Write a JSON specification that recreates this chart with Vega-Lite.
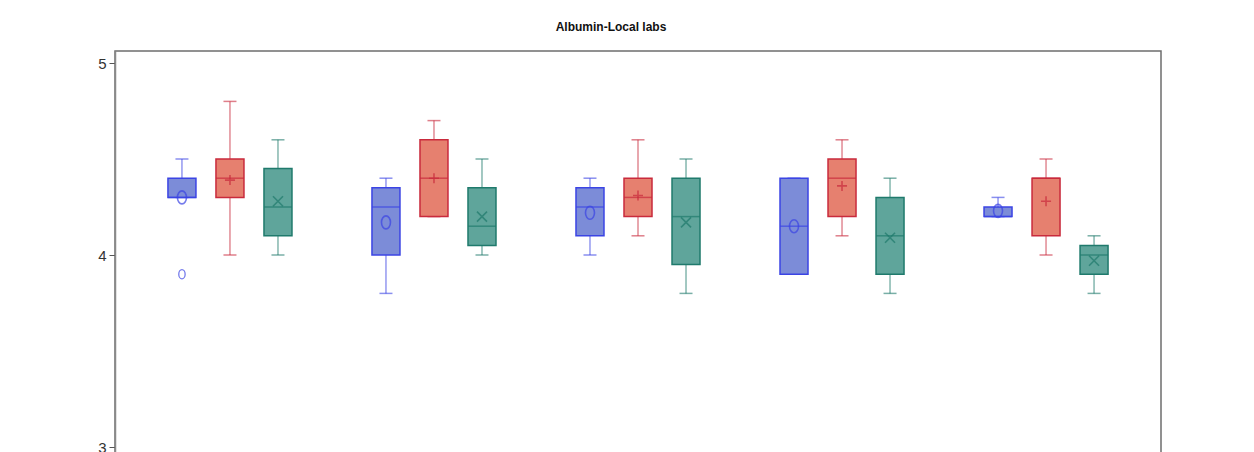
{
  "$schema": "https://vega.github.io/schema/vega-lite/v6.json",
  "autosize": "none",
  "padding": {"left": 115, "top": 51, "right": 93, "bottom": 0},
  "width": 1046,
  "height": 492,
  "background": "white",
  "title": {
    "text": "Albumin-Local labs",
    "font": "Liberation Sans",
    "fontSize": 12,
    "fontWeight": "bold",
    "color": "#111",
    "anchor": "middle",
    "dx": -27,
    "offset": 17
  },
  "config": {
    "view": {"stroke": "#6e6e6e", "strokeWidth": 1.5},
    "axis": {"labelFont": "Liberation Sans", "titleFont": "Liberation Sans"}
  },
  "datasets": {
    "boxes": [
      {"visit": "Visit 1", "trt": "Arm 1", "lower": 4.3, "q1": 4.3, "median": 4.3, "q3": 4.4, "upper": 4.5, "mean": 4.3},
      {"visit": "Visit 1", "trt": "Arm 2", "lower": 4.0, "q1": 4.3, "median": 4.4, "q3": 4.5, "upper": 4.8, "mean": 4.39},
      {"visit": "Visit 1", "trt": "Arm 3", "lower": 4.0, "q1": 4.1, "median": 4.25, "q3": 4.45, "upper": 4.6, "mean": 4.28},
      {"visit": "Visit 2", "trt": "Arm 1", "lower": 3.8, "q1": 4.0, "median": 4.25, "q3": 4.35, "upper": 4.4, "mean": 4.17},
      {"visit": "Visit 2", "trt": "Arm 2", "lower": 4.2, "q1": 4.2, "median": 4.4, "q3": 4.6, "upper": 4.7, "mean": 4.4},
      {"visit": "Visit 2", "trt": "Arm 3", "lower": 4.0, "q1": 4.05, "median": 4.15, "q3": 4.35, "upper": 4.5, "mean": 4.2},
      {"visit": "Visit 3", "trt": "Arm 1", "lower": 4.0, "q1": 4.1, "median": 4.25, "q3": 4.35, "upper": 4.4, "mean": 4.22},
      {"visit": "Visit 3", "trt": "Arm 2", "lower": 4.1, "q1": 4.2, "median": 4.3, "q3": 4.4, "upper": 4.6, "mean": 4.31},
      {"visit": "Visit 3", "trt": "Arm 3", "lower": 3.8, "q1": 3.95, "median": 4.2, "q3": 4.4, "upper": 4.5, "mean": 4.17},
      {"visit": "Visit 4", "trt": "Arm 1", "lower": 3.9, "q1": 3.9, "median": 4.15, "q3": 4.4, "upper": 4.4, "mean": 4.15},
      {"visit": "Visit 4", "trt": "Arm 2", "lower": 4.1, "q1": 4.2, "median": 4.4, "q3": 4.5, "upper": 4.6, "mean": 4.36},
      {"visit": "Visit 4", "trt": "Arm 3", "lower": 3.8, "q1": 3.9, "median": 4.1, "q3": 4.3, "upper": 4.4, "mean": 4.09},
      {"visit": "Visit 5", "trt": "Arm 1", "lower": 4.2, "q1": 4.2, "median": 4.2, "q3": 4.25, "upper": 4.3, "mean": 4.23},
      {"visit": "Visit 5", "trt": "Arm 2", "lower": 4.0, "q1": 4.1, "median": 4.4, "q3": 4.4, "upper": 4.5, "mean": 4.28},
      {"visit": "Visit 5", "trt": "Arm 3", "lower": 3.8, "q1": 3.9, "median": 4.0, "q3": 4.05, "upper": 4.1, "mean": 3.97}
    ],
    "outliers": [
      {"visit": "Visit 1", "trt": "Arm 1", "value": 3.9}
    ]
  },
  "encoding": {
    "x": {
      "field": "visit",
      "type": "nominal",
      "axis": null,
      "scale": {"paddingInner": 0.294, "paddingOuter": 0.2105}
    },
    "xOffset": {
      "field": "trt",
      "type": "nominal",
      "scale": {"paddingInner": 0, "paddingOuter": 0}
    }
  },
  "layer": [
    {
      "data": {"name": "boxes"},
      "mark": {"type": "rule", "strokeWidth": 1.5, "strokeOpacity": 0.55},
      "encoding": {
        "y": {
          "field": "lower",
          "type": "quantitative",
          "scale": {"domain": [2.5, 5.0625], "nice": false, "zero": false},
          "axis": {
            "title": null,
            "values": [3, 4, 5],
            "format": "d",
            "grid": false,
            "labelFontSize": 15,
            "labelColor": "#333",
            "tickSize": 6,
            "tickColor": "#555",
            "labelPadding": 3,
            "domainColor": "#8a8a8a",
            "domainWidth": 1.5
          }
        },
        "y2": {"field": "upper"},
        "stroke": {
          "field": "trt",
          "type": "nominal",
          "legend": null,
          "scale": {"domain": ["Arm 1", "Arm 2", "Arm 3"], "range": ["#3b44e4", "#c92a3c", "#1f7a6c"]}
        }
      }
    },
    {
      "data": {"name": "boxes"},
      "mark": {"type": "tick", "size": 13, "thickness": 1.5, "opacity": 0.6},
      "encoding": {
        "y": {"field": "upper", "type": "quantitative"},
        "color": {
          "field": "trt",
          "type": "nominal",
          "legend": null,
          "scale": {"domain": ["Arm 1", "Arm 2", "Arm 3"], "range": ["#3b44e4", "#c92a3c", "#1f7a6c"]}
        }
      }
    },
    {
      "data": {"name": "boxes"},
      "mark": {"type": "tick", "size": 13, "thickness": 1.5, "opacity": 0.6},
      "encoding": {
        "y": {"field": "lower", "type": "quantitative"},
        "color": {"field": "trt", "type": "nominal", "legend": null}
      }
    },
    {
      "data": {"name": "boxes"},
      "mark": {"type": "bar", "size": 28, "strokeWidth": 1.5},
      "encoding": {
        "y": {"field": "q1", "type": "quantitative"},
        "y2": {"field": "q3"},
        "fill": {
          "field": "trt",
          "type": "nominal",
          "legend": null,
          "scale": {"domain": ["Arm 1", "Arm 2", "Arm 3"], "range": ["#7c8cd8", "#e6806f", "#5fa59b"]}
        },
        "stroke": {"field": "trt", "type": "nominal", "legend": null}
      }
    },
    {
      "data": {"name": "boxes"},
      "mark": {"type": "tick", "size": 28, "thickness": 1.5},
      "encoding": {
        "y": {"field": "median", "type": "quantitative"},
        "color": {"field": "trt", "type": "nominal", "legend": null}
      }
    },
    {
      "data": {"name": "boxes"},
      "mark": {"type": "point", "filled": false, "size": 100, "strokeWidth": 1.6},
      "encoding": {
        "y": {"field": "mean", "type": "quantitative"},
        "stroke": {"field": "trt", "type": "nominal", "legend": null},
        "shape": {
          "field": "trt",
          "type": "nominal",
          "legend": null,
          "scale": {
            "domain": ["Arm 1", "Arm 2", "Arm 3"],
            "range": [
              "M0,-1.3A0.9,1.3 0 1,1 0,1.3A0.9,1.3 0 1,1 0,-1.3Z",
              "M-1,0L1,0M0,-1L0,1",
              "M-1,-1L1,1M-1,1L1,-1"
            ]
          }
        }
      }
    },
    {
      "data": {"name": "outliers"},
      "mark": {
        "type": "point",
        "filled": false,
        "size": 50,
        "strokeWidth": 1.3,
        "shape": "M0,-1.3A0.9,1.3 0 1,1 0,1.3A0.9,1.3 0 1,1 0,-1.3Z"
      },
      "encoding": {
        "y": {"field": "value", "type": "quantitative"},
        "stroke": {"field": "trt", "type": "nominal", "legend": null}
      }
    }
  ]
}
